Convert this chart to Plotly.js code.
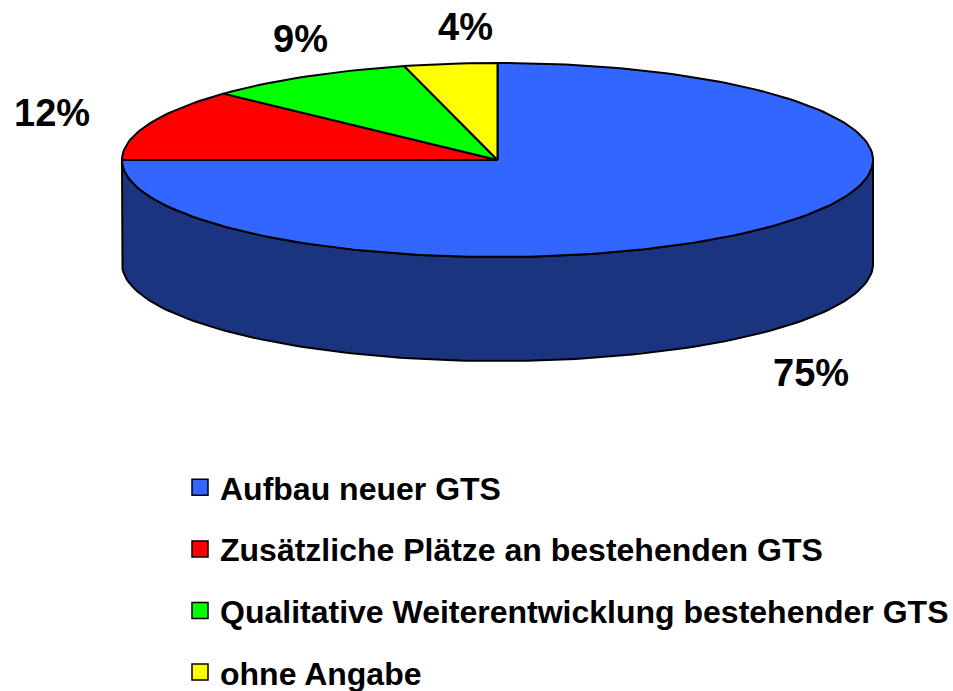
<!DOCTYPE html>
<html>
<head>
<meta charset="utf-8">
<script src="https://cdn.plot.ly/plotly-3.0.1.min.js"></script>
<style>html,body{margin:0;padding:0;background:#fff;}#chart{width:953px;height:691px;}</style>
</head>
<body>
<div id="chart"></div>
<script>
// ---- data ----
var categories = [
  "Aufbau neuer GTS",
  "Zusätzliche Plätze an bestehenden GTS",
  "Qualitative Weiterentwicklung bestehender GTS",
  "ohne Angabe"
];
var values = [75, 12, 9, 4];
var labels = ["75%", "12%", "9%", "4%"];

// ---- styles / layout (not data) ----
var topColors  = ["#3366FF", "#FF0000", "#00FF00", "#FFFF00"];
var sideColors = ["#1B347F", "#800000", "#008000", "#808000"];
var labelPos = [[811, 373], [52, 113], [300, 39], [465, 27]];
var geo = {cx: 497.5, cy: 160, rx: 375.5, ry: 97, depth: 104};
var FONT = "'Liberation Sans', Arial, sans-serif";

function pt(angDeg, dy) {
  var a = angDeg * Math.PI / 180;
  return [geo.cx + geo.rx * Math.sin(a), geo.cy - geo.ry * Math.cos(a) + (dy || 0)];
}
function arc(a0, a1, dy) {
  var pts = [], n = Math.max(2, Math.ceil(Math.abs(a1 - a0) / 1.5));
  for (var i = 0; i <= n; i++) pts.push(pt(a0 + (a1 - a0) * i / n, dy));
  return pts;
}

var total = values.reduce(function (s, v) { return s + v; }, 0);
var traces = [];
var topTraces = [];
var start = 0;
values.forEach(function (v, i) {
  var a0 = start, a1 = start + v / total * 360;
  start = a1;
  // side wall: visible front half (90..270 deg)
  var s0 = Math.max(a0, 90), s1 = Math.min(a1, 270);
  if (s1 > s0) {
    var topArc = arc(s0, s1, 0), botArc = arc(s1, s0, geo.depth);
    var poly = topArc.concat(botArc);
    poly.push(topArc[0]);
    traces.push({
      type: "scatter", mode: "lines", fill: "toself",
      x: poly.map(function (p) { return p[0]; }),
      y: poly.map(function (p) { return p[1]; }),
      fillcolor: sideColors[i], line: {color: "#000", width: 2},
      showlegend: false, hoverinfo: "skip"
    });
  }
  // top face slice
  var ptsTop = [[geo.cx, geo.cy]].concat(arc(a0, a1, 0));
  ptsTop.push([geo.cx, geo.cy]);
  topTraces.push({
    type: "scatter", mode: "lines", fill: "toself",
    x: ptsTop.map(function (p) { return p[0]; }),
    y: ptsTop.map(function (p) { return p[1]; }),
    fillcolor: topColors[i], line: {color: "#000", width: 2},
    name: categories[i], showlegend: false, hoverinfo: "skip"
  });
});
traces = traces.concat(topTraces);

// legend entries
categories.forEach(function (c, i) {
  traces.push({
    type: "scatter", mode: "markers", x: [null], y: [null],
    name: "<b>" + c + "</b>", legendgroup: "g" + i,
    marker: {symbol: "square", size: 16, color: topColors[i], line: {color: "#000", width: 1.5}},
    hoverinfo: "skip"
  });
});

var annotations = labels.map(function (t, i) {
  return {
    x: labelPos[i][0], y: labelPos[i][1], xref: "x", yref: "y",
    text: "<b>" + t + "</b>", showarrow: false,
    font: {family: FONT, size: 38, color: "#000"},
    xanchor: "center", yanchor: "middle"
  };
});

var layout = {
  width: 953, height: 691,
  margin: {l: 0, r: 0, t: 0, b: 0, pad: 0, autoexpand: false},
  paper_bgcolor: "#fff", plot_bgcolor: "#fff",
  xaxis: {range: [0, 953], visible: false, fixedrange: true},
  yaxis: {range: [691, 0], visible: false, fixedrange: true},
  showlegend: true,
  legend: {
    x: 180 / 953, y: 1 - 460 / 691, xanchor: "left", yanchor: "top",
    font: {family: FONT, size: 32, color: "#000"},
    tracegroupgap: 17, bgcolor: "rgba(0,0,0,0)", traceorder: "grouped"
  },
  annotations: annotations,
  font: {family: FONT}
};

Plotly.newPlot("chart", traces, layout, {displayModeBar: false, staticPlot: true});
</script>
</body>
</html>
